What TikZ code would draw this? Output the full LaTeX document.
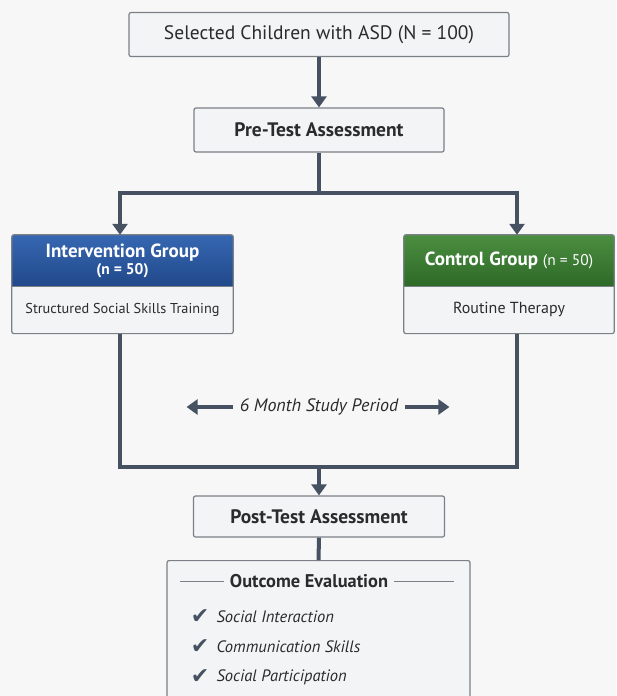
\documentclass[tikz,border=0pt]{standalone}
\usepackage{fontspec}
\setmainfont{PT Sans}
\newfontfamily\symfont{DejaVu Sans}
\usetikzlibrary{arrows.meta,positioning}

\definecolor{edgegray}{HTML}{7B8087}
\definecolor{boxfill}{HTML}{F3F4F6}
\definecolor{linkcol}{HTML}{465262}
\definecolor{textcol}{HTML}{2B2B2B}
\definecolor{blueTop}{HTML}{3667B2}
\definecolor{blueBot}{HTML}{21498A}
\definecolor{greenTop}{HTML}{4C8E40}
\definecolor{greenBot}{HTML}{2D6928}

\begin{document}
\begin{tikzpicture}[x=1pt,y=-1pt,
	box/.style={draw=edgegray, line width=1.2pt, fill=boxfill, rounded corners=2pt,
		minimum height=44pt, text=textcol, font=\fontsize{19.5}{22}\selectfont},
	head/.style={draw=none, minimum height=51pt, text=white, align=center,
		font=\fontsize{19}{19}\selectfont\bfseries, inner sep=2pt},
	body/.style={fill=boxfill, minimum height=47pt, text=textcol,
		font=\fontsize{14.3}{16}\selectfont},
	link/.style={draw=linkcol, line width=4pt},
	arr/.style={link, -{Triangle[width=15pt,length=11pt]}},
	item/.style={text=textcol, font=\fontsize{16.5}{18}\selectfont\itshape, inner sep=0pt}
	]
	\fill[white!97!black] (0,0) rectangle (616,696);
	\useasboundingbox (0,0) rectangle (616,696);
	
	\node[box, minimum width=380pt] (sel) at (319,34.5) {Selected Children with ASD (N = 100)};
	\node[box, minimum width=250pt] (pre) at (319,130) {\bfseries Pre-Test Assessment};
	
	% the two groups
	\node[head, minimum width=221pt, top color=blueTop, bottom color=blueBot] (inthead) at (122.5,260.5)
		{Intervention Group\\[-2pt]{\fontsize{15.5}{16}\selectfont (n = 50)}};
	\node[body, minimum width=221pt, below=0pt of inthead] (intbody) {Structured Social Skills Training};
	\draw[edgegray, line width=1.2pt, rounded corners=2pt] (inthead.north west) rectangle (intbody.south east);
	\draw[edgegray, line width=0.6pt] (inthead.south west) -- (inthead.south east);
	
	\node[head, minimum width=210pt, top color=greenTop, bottom color=greenBot] (ctlhead) at (509,260.5)
		{Control Group {\fontsize{15.5}{16}\selectfont\mdseries (n = 50)}};
	\node[body, minimum width=210pt, below=0pt of ctlhead, font=\fontsize{16}{18}\selectfont] (ctlbody) {Routine Therapy};
	\draw[edgegray, line width=1.2pt, rounded corners=2pt] (ctlhead.north west) rectangle (ctlbody.south east);
	\draw[edgegray, line width=0.6pt] (ctlhead.south west) -- (ctlhead.south east);
	
	\node[box, minimum width=251pt, minimum height=41pt] (post) at (319,516.5) {\bfseries Post-Test Assessment};
	\node[box, anchor=north, minimum width=303pt, minimum height=150pt] (outcome) at (318.5,560) {};
	
	\draw[arr] (sel) -- (pre);
	\draw[link] (pre.south) -- ++(0,40) coordinate (fork);
	\draw[arr] (fork) -| ([xshift=-2.5pt]inthead.north);
	\draw[arr] (fork) -| ([xshift=8pt]ctlhead.north);
	
	\coordinate (outL) at ([xshift=-2.5pt]intbody.south);
	\coordinate (outR) at ([xshift=8pt]ctlbody.south);
	\draw[link] (outL) -- ++(0,133) coordinate (joinL) -- (joinL -| outR) -- (outR);
	\draw[arr] (joinL -| post) -- (post.north);
	\draw[link] (post.south) -- (outcome.north);
	
	\node[item, font=\fontsize{18}{20}\selectfont\itshape, inner sep=7pt] (period) at (319,407) {6 Month Study Period};
	\draw[arr] (period.west) -- ++(-46,0);
	\draw[arr] (period.east) -- ++(44,0);
	
	% outcome list
	\node[text=textcol, font=\fontsize{18.4}{20}\selectfont\bfseries, inner sep=6pt] (otitle) at (309,581) {Outcome Evaluation};
	\draw[edgegray, line width=1pt] (otitle.west) -- ++(-44,0);
	\draw[edgegray, line width=1pt] (otitle.east) -- ++(60,0);
	\foreach \txt [count=\i] in {Social Interaction, Communication Skills, Social Participation}{
		\node[text=linkcol, font=\symfont\fontsize{22}{24}\selectfont, inner sep=0pt] (chk\i) at (200,587+30*\i) {✔};
		\node[item, anchor=west, right=7pt of chk\i] (itm\i) {\txt};
	}
\end{tikzpicture}
\end{document}
